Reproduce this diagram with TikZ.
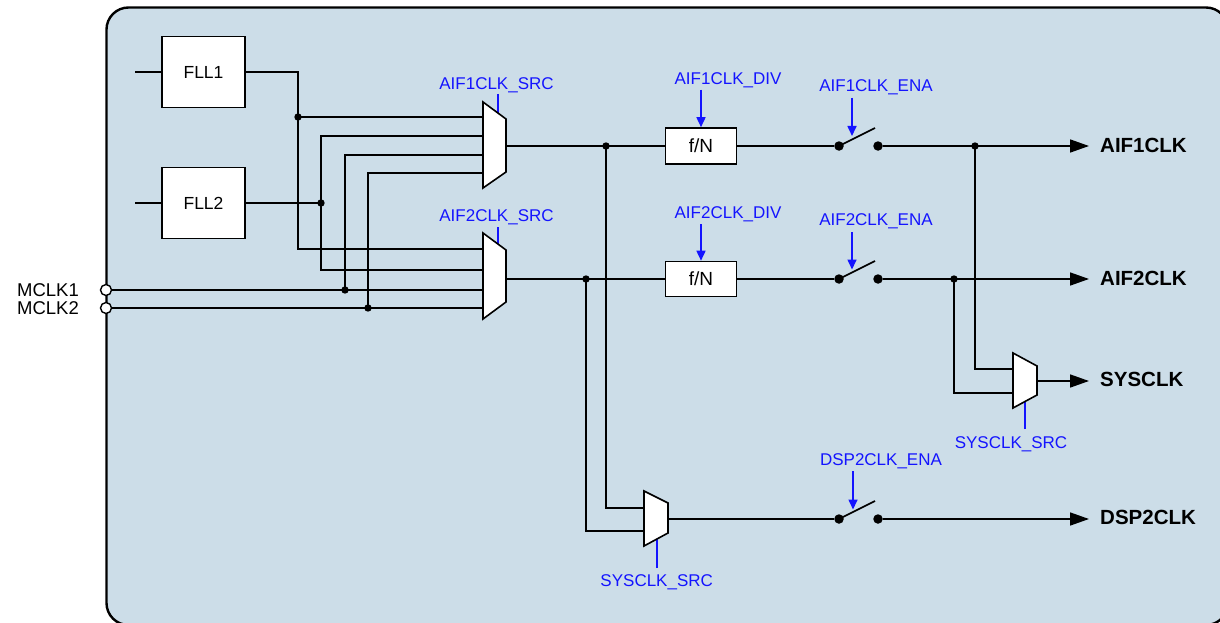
\documentclass[tikz,border=0pt]{standalone}
\usepackage{fontspec}
\setmainfont{Liberation Sans}
\usetikzlibrary{arrows.meta,calc}
\definecolor{panel}{RGB}{204,221,232}
\definecolor{ctl}{RGB}{20,20,255}
\begin{document}
\begin{tikzpicture}[x=1pt,y=-1pt,
  wire/.style={line width=1.6pt},
  ctlline/.style={draw=ctl,line width=1.6pt},
  ctlarrow/.style={draw=ctl,fill=ctl,line width=1.6pt,-{Triangle[length=10pt,width=9pt]}},
  outarrow/.style={line width=1.6pt,-{Triangle[length=19pt,width=13pt]}},
  blk/.style={draw,fill=white,line width=1.6pt,inner sep=0},
  lbl/.style={text=ctl,font=\fontsize{17}{20}\selectfont,inner sep=0,anchor=base},
  outlbl/.style={font=\bfseries\fontsize{20.5}{24}\selectfont,inner sep=0,anchor=base west},
  inlbl/.style={font=\fontsize{18.5}{21}\selectfont,inner sep=0,anchor=base east,text height=13.3pt,text depth=0pt},
  jdot/.style={circle,fill,inner sep=0,minimum size=7.4pt},
  sdot/.style={circle,fill,inner sep=0,minimum size=9.5pt},
  port/.style={circle,draw,fill=white,line width=1.4pt,inner sep=0,minimum size=11pt},
  muxs/.style={draw,fill=white,line width=1.6pt,line join=miter}
]
\useasboundingbox (0,0) rectangle (1220,623);
\clip (0,0) rectangle (1220,623);
\draw[fill=panel,line width=2.4pt,rounded corners=22pt] (106.5,7.5) rectangle (1228,625);

% ---- control lines (behind muxes)
\draw[ctlline] (498,94) -- (498,114);
\draw[ctlline] (498,227) -- (498,246);
\draw[ctlline] (1025,429) -- (1025,400);
\draw[ctlline] (657,568) -- (657,538);

% ---- muxes
\draw[muxs] (483,102) -- (506,119) -- (506,172) -- (483,188) -- cycle;
\draw[muxs] (483,233) -- (506,250) -- (506,302) -- (483,319) -- cycle;
\draw[muxs] (1013,353) -- (1037,366) -- (1037,395) -- (1013,408) -- cycle;
\draw[muxs] (644,491) -- (668,503) -- (668,533) -- (644,546) -- cycle;

% mux pins
\coordinate (m1in1) at (483,117);
\coordinate (m1in2) at (483,136);
\coordinate (m1in3) at (483,155);
\coordinate (m1in4) at (483,173);
\coordinate (m2in1) at (483,249);
\coordinate (m2in2) at (483,270);
\coordinate (m2in3) at (483,290);
\coordinate (m2in4) at (483,308);
\coordinate (m1out) at (506,146);
\coordinate (m2out) at (506,279);
\coordinate (sysin1) at (1013,369);
\coordinate (sysin2) at (1013,393);
\coordinate (sysout) at (1037,381);
\coordinate (dspin1) at (644,508);
\coordinate (dspin2) at (644,531);
\coordinate (dspout) at (668,519);

% ---- blocks
\node[blk,minimum width=83pt,minimum height=71pt,font=\fontsize{17.5}{20}\selectfont] (fll1) at (203.5,72) {FLL1};
\node[blk,minimum width=83pt,minimum height=71pt,font=\fontsize{17.5}{20}\selectfont] (fll2) at (203.5,203) {FLL2};
\node[blk,minimum width=71pt,minimum height=36pt,font=\fontsize{19}{22}\selectfont] (fn1) at (701,146) {f/N};
\node[blk,minimum width=71pt,minimum height=35pt,font=\fontsize{19}{22}\selectfont] (fn2) at (701,279) {f/N};

\coordinate (fin1) at (135,72);
\coordinate (fin2) at (135,203);
\draw[wire] (fin1) -- (fll1.west);
\draw[wire] (fin2) -- (fll2.west);

% ---- junctions
\coordinate (j1) at (298,117);
\coordinate (j2) at (321,203);
\coordinate (j3) at (345,290);
\coordinate (j4) at (368,308);
\coordinate (j5) at (606,146);
\coordinate (j6) at (586,279);
\coordinate (j7) at (975,146);
\coordinate (j8) at (954,279);

% ---- ports
\node[port] (p1) at (106,290) {};
\node[port] (p2) at (106,308) {};
\node[inlbl] (lm1) at (79,296.8) {MCLK1};
\node[inlbl] (lm2) at (79,314.8) {MCLK2};

% ---- wires
\draw[wire] (fll1.east) -| (j1) |- (m2in1);
\draw[wire] (j1) -- (m1in1);
\draw[wire] (fll2.east) -- (j2);
\draw[wire] (m1in2) -| (j2) |- (m2in2);
\draw[wire] (p1.east) -- (m2in3);
\draw[wire] (j3) |- (m1in3);
\draw[wire] (p2.east) -- (m2in4);
\draw[wire] (j4) |- (m1in4);

\draw[wire] (m1out) -- (fn1.west);
\draw[wire] (j5) |- (dspin1);
\draw[wire] (m2out) -- (fn2.west);
\draw[wire] (j6) |- (dspin2);

% ---- switches
\node[sdot] (s1a) at (839,146) {};
\node[sdot] (s1b) at (878,146) {};
\node[sdot] (s2a) at (839,279) {};
\node[sdot] (s2b) at (878,279) {};
\node[sdot] (s3a) at (839,519) {};
\node[sdot] (s3b) at (878,519) {};
\coordinate (b1) at (875,128);
\coordinate (b2) at (875,261);
\coordinate (b3) at (875,501);
\draw[wire] (s1a.center) -- (b1);
\draw[wire] (s2a.center) -- (b2);
\draw[wire] (s3a.center) -- (b3);

\draw[wire] (fn1.east) -- (s1a);
\draw[wire] (fn2.east) -- (s2a);
\draw[wire] (dspout) -- (s3a);

% ---- outputs
\coordinate (o1) at (1089,146);
\coordinate (o2) at (1089,279);
\coordinate (o3) at (1089,381);
\coordinate (o4) at (1089,519);
\draw[outarrow] (s1b) -- (o1);
\draw[outarrow] (s2b) -- (o2);
\draw[outarrow] (sysout) -- (o3);
\draw[outarrow] (s3b) -- (o4);
\draw[wire] (j7) |- (sysin1);
\draw[wire] (j8) |- (sysin2);

\node[outlbl] (t1) at (1100,152.7) {AIF1CLK};
\node[outlbl] (t2) at (1100,285) {AIF2CLK};
\node[outlbl] (t3) at (1100,386.7) {SYSCLK};
\node[outlbl] (t4) at (1100,524.3) {DSP2CLK};

% ---- dots
\foreach \j in {j1,j2,j3,j4,j5,j6,j7,j8} \node[jdot] at (\j) {};

% ---- control labels and arrows
\node[lbl] (lsrc1) at (496.5,90) {AIF1CLK\_SRC};
\node[lbl] (lsrc2) at (496.5,221.7) {AIF2CLK\_SRC};
\node[lbl] (ldiv1) at (728,85) {AIF1CLK\_DIV};
\node[lbl] (ldiv2) at (728,218.3) {AIF2CLK\_DIV};
\node[lbl] (lena1) at (876,91.7) {AIF1CLK\_ENA};
\node[lbl] (lena2) at (876,225) {AIF2CLK\_ENA};
\node[lbl] (lena3) at (881,465) {DSP2CLK\_ENA};
\node[lbl] (lsys1) at (1011,448.3) {SYSCLK\_SRC};
\node[lbl] (lsys2) at (656.7,586.7) {SYSCLK\_SRC};

\draw[ctlarrow] (701,90) -- (fn1.north);
\draw[ctlarrow] (701,224) -- (fn2.north);
\draw[ctlarrow] (852,98) -- (852,136);
\draw[ctlarrow] (852,232) -- (852,269.5);
\draw[ctlarrow] (853,471) -- (853,509.5);
\end{tikzpicture}
\end{document}
